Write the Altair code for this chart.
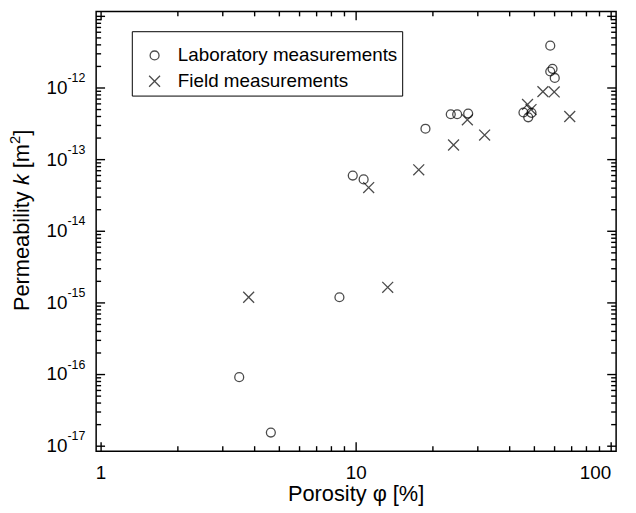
import altair as alt
import pandas as pd

# ---- data ----
lab_phi = [3.48, 4.63, 8.6, 9.7, 10.7, 18.7, 23.5, 24.9, 27.5, 45.3, 47.3, 48.7, 57.7, 58.9, 57.7, 60.1]
lab_k = [9.2e-17, 1.55e-17, 1.2e-15, 6.0e-14, 5.3e-14, 2.7e-13, 4.3e-13, 4.3e-13, 4.4e-13,
         4.55e-13, 3.9e-13, 4.5e-13, 3.9e-12, 1.85e-12, 1.7e-12, 1.38e-12]
field_phi = [3.79, 11.2, 13.3, 17.6, 24.1, 27.3, 31.9, 47.0, 48.5, 54.0, 59.8, 68.8]
field_k = [1.2e-15, 4.07e-14, 1.65e-15, 7.2e-14, 1.6e-13, 3.6e-13, 2.2e-13, 5.9e-13,
           5.0e-13, 8.9e-13, 8.8e-13, 4.0e-13]

types = ["Laboratory measurements", "Field measurements"]

x_major = [1, 10, 100]
x_tick_labels = ["1", "10", "100"]
x_minor = [2, 3, 4, 5, 6, 7, 8, 9, 20, 30, 40, 50, 60, 70, 80, 90]
y_major = [1e-17, 1e-16, 1e-15, 1e-14, 1e-13, 1e-12, 1e-11]
y_minor = [m * d for d in [1e-17, 1e-16, 1e-15, 1e-14, 1e-13, 1e-12] for m in range(2, 10)]
y_label_vals = [1e-17, 1e-16, 1e-15, 1e-14, 1e-13, 1e-12]
y_label_exps = ["-17", "-16", "-15", "-14", "-13", "-12"]

x_title = "Porosity φ [%]"
y_title_parts = ["Permeability", "k", "[m", "2", "]"]

FONT = "Liberation Sans"
W, H = 525, 444
CROSS = "M-1,-1L1,1M1,-1L-1,1"
MAJ, MIN = 9, 5

pts = pd.DataFrame({
    "phi": lab_phi + field_phi,
    "k": lab_k + field_k,
    "type": [types[0]] * len(lab_phi) + [types[1]] * len(field_phi),
})
ylabels = pd.DataFrame({"k": y_label_vals, "exp": y_label_exps})
xlabels = pd.DataFrame({"phi": x_major, "lab": x_tick_labels})

xs = alt.Scale(type="log", domain=[1, 100], nice=False)
ys = alt.Scale(type="log", domain=[1e-17, 1e-11], nice=False)

leg = alt.Legend(
    orient="none", legendX=36, legendY=20, title=" ", titleFontSize=7, titlePadding=4,
    labelFont=FONT, labelFontSize=19,
    labelColor="black", strokeColor="black", fillColor="white", padding=4,
    symbolOffset=9.5, labelOffset=14, rowPadding=6, symbolStrokeWidth=1.3,
    symbolStrokeColor="black", symbolFillColor="transparent", labelLimit=0,
)

points = alt.Chart(pts).mark_point(filled=False, color="black", strokeWidth=1.3).encode(
    x=alt.X("phi:Q", scale=xs, axis=None),
    y=alt.Y("k:Q", scale=ys, axis=None),
    shape=alt.Shape("type:N", scale=alt.Scale(domain=types, range=["circle", CROSS]), legend=leg),
    size=alt.Size("type:N", scale=alt.Scale(domain=types, range=[81, 121]), legend=leg),
)


def xticks(vals, y0, y1):
    # vertical tick drawn as a thin filled bar
    return alt.Chart(pd.DataFrame({"phi": vals})).mark_bar(width=1.4, color="black").encode(
        x=alt.X("phi:Q", scale=xs, axis=None), y=alt.value(y0), y2=alt.value(y1)
    )


def yticks(vals, x0, x1):
    # horizontal tick drawn as a thin filled bar
    return alt.Chart(pd.DataFrame({"k": vals})).mark_bar(height=1.4, color="black").encode(
        y=alt.Y("k:Q", scale=ys, axis=None), x=alt.value(x0), x2=alt.value(x1)
    )


tick_layers = [
    xticks(x_major, H - MAJ, H), xticks(x_minor, H - MIN, H),
    xticks(x_major, 0, MAJ), xticks(x_minor, 0, MIN),
    yticks(y_major, 0, MAJ), yticks(y_minor, 0, MIN),
    yticks(y_major, W - MAJ, W), yticks(y_minor, W - MIN, W),
]

# x tick labels ("100" flush with the right frame, as in the reference)
xlab_c = alt.Chart(xlabels).transform_filter("datum.phi < 100").mark_text(
    font=FONT, fontSize=19, color="black", align="center", baseline="top"
).encode(x=alt.X("phi:Q", scale=xs, axis=None), y=alt.value(H + 13), text="lab:N")
xlab_r = alt.Chart(xlabels).transform_filter("datum.phi >= 100").mark_text(
    font=FONT, fontSize=19, color="black", align="right", baseline="top"
).encode(x=alt.X("phi:Q", scale=xs, axis=None), y=alt.value(H + 13), text="lab:N")
xtitle = alt.Chart(pd.DataFrame({"t": [x_title]})).mark_text(
    font=FONT, fontSize=22, color="black", align="center", baseline="top"
).encode(x=alt.value(W / 2), y=alt.value(H + 33), text="t:N")

ylab_base = alt.Chart(ylabels).mark_text(
    font=FONT, fontSize=19, color="black", align="right", baseline="middle"
).encode(
    x=alt.value(-29),
    y=alt.Y("k:Q", scale=ys, axis=None),
    text=alt.value("10"),
)
ylab_exp = alt.Chart(ylabels).mark_text(
    font=FONT, fontSize=12.5, color="black", align="left", baseline="middle", dy=-10
).encode(
    x=alt.value(-29),
    y=alt.Y("k:Q", scale=ys, axis=None),
    text="exp:N",
)

# y title pieces (rotated, laid out along the text direction)
offsets = [0, 127.1, 144.2, 168.6, 176.9]
sizes = [22, 22, 22, 15, 22]
styles = ["normal", "italic", "normal", "normal", "normal"]
raise_ = [0, 0, 0, -9, 0]
title_layers = []
for part, off, sz, st, r in zip(y_title_parts, offsets, sizes, styles, raise_):
    title_layers.append(
        alt.Chart(pd.DataFrame({"t": [part]})).mark_text(
            font=FONT, fontSize=sz, fontStyle=st, color="black", angle=270,
            align="left", baseline="alphabetic", dx=off, dy=r,
        ).encode(x=alt.value(-68), y=alt.value(211 + 91.5), text="t:N")
    )

chart = alt.layer(
    *tick_layers, points, xlab_c, xlab_r, xtitle, ylab_base, ylab_exp, *title_layers
).properties(
    width=W, height=H,
    autosize=alt.AutoSizeParams(type="none"),
    padding={"left": 89, "top": 1, "right": 12, "bottom": 58},
).configure_view(stroke="black", strokeWidth=1.5)

chart.save("out.html", embed_options={"renderer": "svg", "actions": False})
